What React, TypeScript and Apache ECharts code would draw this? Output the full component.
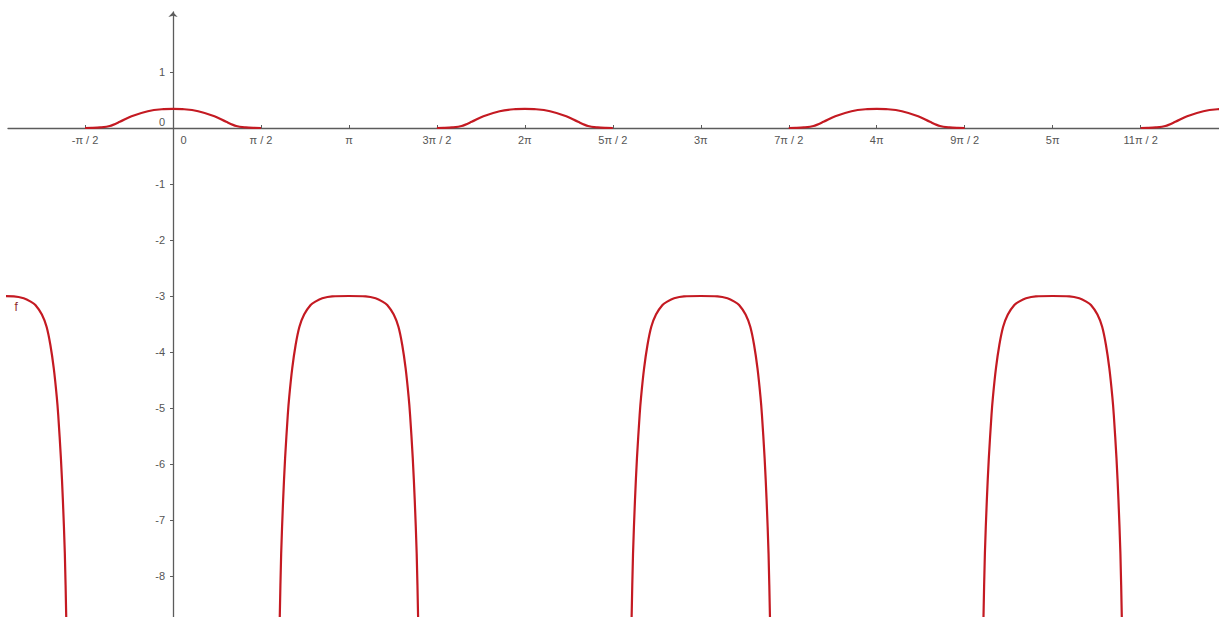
import React, { useEffect, useRef } from 'react';
import * as echarts from 'echarts';

const PI = Math.PI;

// x ticks, in multiples of π/2, and their labels
const xTickHalfPi = [-1, 0, 1, 2, 3, 4, 5, 6, 7, 8, 9, 10, 11];
const xTickLabels = ['-π / 2', '0', 'π / 2', 'π', '3π / 2', '2π', '5π / 2', '3π', '7π / 2', '4π', '9π / 2', '5π', '11π / 2'];
const yTickValues = [-8, -7, -6, -5, -4, -3, -2, -1, 0, 1];

// positive bump, read around its centre (offset in rad, value)
const bumpDx = [-1.571, -1.45, -1.3, -1.13, -0.95, -0.74, -0.45, -0.2, 0, 0.2, 0.45, 0.74, 0.95, 1.13, 1.3, 1.45, 1.571];
const bumpY = [0, 0.002, 0.01, 0.035, 0.11, 0.21, 0.3, 0.335, 0.34, 0.335, 0.3, 0.21, 0.11, 0.035, 0.01, 0.002, 0];
const bumpCentersPi = [0, 2, 4, 6];

// negative dip, read around its centre (offset in rad, value)
const dipDx = [-1.25, -1.235, -1.21, -1.175, -1.14, -1.092, -1.066, -1.012, -0.952, -0.884, -0.8, -0.684, -0.6, -0.476, -0.3, 0, 0.3, 0.476, 0.6, 0.684, 0.8, 0.884, 0.952, 1.012, 1.066, 1.092, 1.14, 1.175, 1.21, 1.235, 1.25];
const dipY = [-9.6, -8.73, -7.6, -6.64, -5.9, -5.125, -4.8, -4.29, -3.875, -3.55, -3.33, -3.16, -3.1, -3.04, -3.005, -3, -3.005, -3.04, -3.1, -3.16, -3.33, -3.55, -3.875, -4.29, -4.8, -5.125, -5.9, -6.64, -7.6, -8.73, -9.6];
const dipCentersPi = [-1, 1, 3, 5];

const CURVE = '#c41a22';
const AXIS = '#5c5c5c';
const LABEL = '#555';
const FONT = 'Liberation Sans, Arial, sans-serif';

export default function App() {
  const ref = useRef<HTMLDivElement>(null);
  useEffect(() => {
    if (!ref.current) return;
    const chart = echarts.init(ref.current, null, { renderer: 'svg' });
    const xTicks = xTickHalfPi.map((k) => (k * PI) / 2);

    const series: any[] = [];
    dipCentersPi.forEach((c, i) => {
      const s: any = {
        type: 'line',
        name: 'f',
        data: dipDx.map((d, j) => [c * PI + d, dipY[j]]),
        symbol: 'none',
        smooth: 0.3,
        clip: true,
        silent: true,
        lineStyle: { color: CURVE, width: 2.2 },
      };
      if (i === 0) {
        s.markPoint = {
          silent: true,
          data: [
            {
              coord: [-2.8, -3.01],
              symbol: 'circle',
              symbolSize: 1,
              itemStyle: { color: 'rgba(0,0,0,0)' },
              label: {
                show: true,
                formatter: 'f',
                position: 'bottom',
                distance: 4,
                color: '#8f2a2a',
                fontSize: 12,
                fontFamily: FONT,
              },
            },
          ],
        };
      }
      series.push(s);
    });
    bumpCentersPi.forEach((c) => {
      series.push({
        type: 'line',
        name: 'f',
        data: bumpDx.map((d, j) => [c * PI + d, bumpY[j]]),
        symbol: 'none',
        smooth: 0.3,
        clip: true,
        silent: true,
        lineStyle: { color: CURVE, width: 2.2 },
      });
    });

    chart.setOption({
      animation: false,
      backgroundColor: '#ffffff',
      grid: { left: 8, top: 12, right: 0, bottom: 0, containLabel: false, outerBoundsMode: 'none' },
      xAxis: {
        type: 'value',
        min: -165 / 56,
        max: 1046 / 56,
        offset: -489,
        splitLine: { show: false },
        axisLine: { onZero: false, lineStyle: { color: AXIS, width: 1.3 } },
        axisTick: { show: true, inside: true, length: 3, customValues: xTicks, lineStyle: { color: AXIS } },
        axisLabel: {
          customValues: xTicks,
          margin: 6,
          color: LABEL,
          fontSize: 11,
          fontFamily: FONT,
          formatter: (v: number) => {
            const idx = xTicks.findIndex((t) => Math.abs(t - v) < 1e-6);
            if (idx < 0) return '';
            if (xTickHalfPi[idx] === 0) return '{z|0}';
            return xTickLabels[idx];
          },
          rich: { z: { padding: [0, 0, 0, 21], color: LABEL, fontSize: 11, fontFamily: FONT } },
        },
      },
      yAxis: {
        type: 'value',
        min: -489 / 56,
        max: 116 / 56,
        offset: -165,
        splitLine: { show: false },
        axisLine: {
          onZero: false,
          lineStyle: { color: AXIS, width: 1.3 },
          symbol: ['none', 'arrow'],
          symbolSize: [7, 5],
        },
        axisTick: { show: true, length: 3, customValues: yTickValues, lineStyle: { color: AXIS } },
        axisLabel: {
          customValues: yTickValues,
          margin: 8,
          color: LABEL,
          fontSize: 11,
          fontFamily: FONT,
          formatter: (v: number) => (Math.abs(v) < 1e-9 ? '{z|0}' : String(v)),
          rich: { z: { padding: [0, 0, 13, 0], color: LABEL, fontSize: 11, fontFamily: FONT } },
        },
      },
      series,
    });
    return () => chart.dispose();
  }, []);

  return (
    <div
      ref={ref}
      style={{ position: 'fixed', left: 0, top: 0, width: 1219, height: 617, background: '#fff' }}
    />
  );
}
